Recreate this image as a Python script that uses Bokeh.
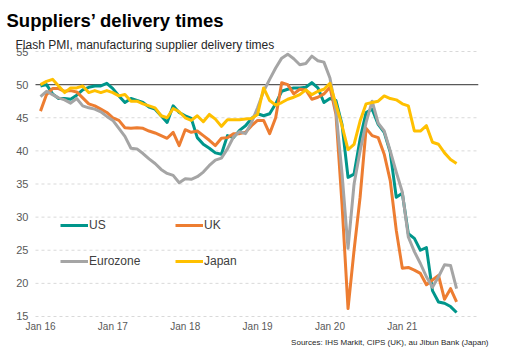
from bokeh.plotting import figure
from bokeh.models import Legend, LegendItem
from bokeh.core.properties import value
from bokeh.embed import file_html
from bokeh.resources import INLINE

# ---- data (month index 0 = Jan 2016 ... 69 = Oct 2021) ----
us = [49.8, 50.0, 48.6, 47.9, 47.9, 47.8, 48.4, 49.2, 49.6, 49.8, 49.8, 50.2,
      49.4, 48.3, 47.3, 47.9, 47.6, 47.3, 46.6, 46.3, 45.3, 44.3, 46.8, 45.8,
      45.3, 44.9, 42.0, 41.0, 40.4, 39.7, 39.5, 42.3, 42.0, 43.1, 43.8, 44.9,
      45.6, 45.3, 45.6, 47.1, 49.0, 49.3, 49.5, 49.5, 49.6, 50.3, 49.5, 47.3,
      47.9, 47.6, 44.0, 36.0, 36.5, 41.8, 45.8, 46.3, 44.0, 42.8, 39.8, 33.0,
      33.6, 27.5, 26.8, 25.0, 25.4, 18.9, 17.2, 17.0, 16.5, 15.6]
uk = [46.0, 48.5, 49.4, 49.4, 49.0, 49.1, 48.9, 48.0, 47.1, 46.8, 46.3, 45.8,
      45.0, 44.6, 43.5, 43.4, 43.5, 43.4, 43.0, 42.7, 42.3, 41.9, 42.8, 40.8,
      43.2, 42.8, 43.0, 42.3, 41.6, 40.8, 41.9, 42.0, 42.6, 42.6, 42.8, 43.8,
      44.6, 44.6, 42.6, 45.0, 50.3, 50.0, 48.6, 49.3, 49.2, 47.8, 48.1, 48.6,
      49.6, 45.5, 32.0, 16.2, 25.0, 33.0, 43.4, 42.3, 42.0, 39.5, 35.5, 28.0,
      22.3, 22.4, 22.0, 21.5, 19.8, 20.5, 21.2, 17.6, 19.2, 17.2]
ez = [48.2, 49.0, 48.5, 48.0, 47.7, 47.2, 47.9, 46.8, 46.5, 46.3, 45.9, 45.2,
      44.6, 43.4, 42.2, 40.4, 40.3, 39.6, 38.8, 38.1, 37.2, 36.6, 36.3, 35.2,
      35.8, 35.7, 36.1, 36.8, 37.8, 38.6, 38.9, 40.3, 42.1, 42.9, 42.6, 44.3,
      46.5, 49.0, 50.8, 52.5, 54.0, 54.6, 53.9, 53.0, 53.2, 54.3, 53.6, 53.4,
      51.0, 46.0, 36.6, 25.3, 35.0, 40.0, 44.3, 47.5, 44.2, 43.0, 40.0, 36.8,
      33.8, 27.0, 24.8, 23.0, 21.0, 19.4, 21.0, 22.8, 22.7, 19.2]
jp = [50.0, 50.5, 50.8, 49.8, 48.8, 49.5, 49.5, 49.8, 48.8, 49.1, 48.8, 49.1,
      48.8, 48.3, 48.5, 47.5, 47.5, 47.1, 46.8, 46.5, 45.3, 45.0, 46.4, 45.9,
      45.0, 44.6, 45.3, 44.4, 45.5, 44.8, 43.7, 44.7, 44.7, 44.7, 44.8, 44.9,
      45.5, 49.5, 47.6, 46.9, 47.3, 47.8, 48.1, 48.5, 49.2, 48.5, 49.0, 49.3,
      50.2, 47.0, 43.8, 40.2, 41.0, 44.5, 47.1, 47.3, 47.5, 48.3, 47.9, 47.7,
      47.1, 46.8, 43.0, 43.0, 43.8, 41.3, 41.0, 39.7, 38.7, 38.1]
months = list(range(len(us)))

series_names = ["US", "UK", "Eurozone", "Japan"]
series_colors = ["#00968b", "#ed7d31", "#a5a5a5", "#ffc000"]

x_ticks = [0, 12, 24, 36, 48, 60]
x_tick_labels = ["Jan 16", "Jan 17", "Jan 18", "Jan 19", "Jan 20", "Jan 21"]
y_ticks = [15, 20, 25, 30, 35, 40, 45, 50, 55]
y_tick_labels = ["15", "20", "25", "30", "35", "40", "45", "50", "55"]
no_change_level = 50

title_text = "Suppliers\u2019 delivery times"
subtitle_text = "Flash PMI, manufacturing supplier delivery times"
source_text = "Sources: IHS Markit, CIPS (UK), au Jibun Bank (Japan)"

FONT = "Liberation Sans"

# layout constants (plot extent in data units)
GRID_X0, GRID_X1 = -0.83, 72.6
PLOT_X0, PLOT_X1 = -6.633, 75.29
Y_BOTTOM, Y_TOP = 10.32, 62.70
SOURCE_X = 74.3

p = figure(width=494, height=347, output_backend="svg", toolbar_location=None,
           x_range=(PLOT_X0, PLOT_X1), y_range=(Y_BOTTOM, Y_TOP),
           x_axis_location=None, y_axis_location=None,
           min_border_left=0, min_border_right=0, min_border_top=0,
           min_border_bottom=0)
p.outline_line_color = None
p.background_fill_color = "white"
p.border_fill_color = "white"
p.xgrid.visible = False
p.ygrid.visible = False

# horizontal gridlines at the y ticks, dashed; solid line at 50
grid_levels = [t for t in y_ticks if t != no_change_level]
p.segment(x0=[GRID_X0] * len(grid_levels), x1=[GRID_X1] * len(grid_levels),
          y0=grid_levels, y1=grid_levels, line_color="#d9d9d9",
          line_dash="3 3", line_width=1)
p.segment(x0=[GRID_X0], x1=[GRID_X1], y0=[no_change_level], y1=[no_change_level],
          line_color="#595959", line_width=1.3)

# y tick labels
p.text(x=[GRID_X0] * len(y_ticks), y=y_ticks, text=y_tick_labels,
       x_offset=-7, text_align="right", text_baseline="middle",
       text_font=value(FONT), text_font_size="11px", text_color="#595959")

renderers = []
for name, vals, col in zip(series_names, [us, uk, ez, jp], series_colors):
    r = p.line(months, vals, line_color=col, line_width=3, line_join="round")
    renderers.append(r)

# x tick labels below the 15 line
p.text(x=x_ticks, y=[y_ticks[0]] * len(x_ticks), text=x_tick_labels,
       y_offset=10, text_align="center", text_baseline="middle",
       text_font=value(FONT), text_font_size="10px", text_color="#595959")

# source note
p.text(x=[SOURCE_X], y=[y_ticks[0]], text=[source_text], y_offset=26,
       text_align="right", text_baseline="middle",
       text_font=value(FONT), text_font_size="8px", text_color="#262626")

# title and subtitle
p.text(x=[PLOT_X0], y=[Y_TOP], text=[title_text], x_offset=6, y_offset=19.5,
       text_align="left", text_baseline="alphabetic",
       text_font=value(FONT), text_font_size="18.5px", text_font_style="bold",
       text_color="#000000")
p.text(x=[PLOT_X0], y=[Y_TOP], text=[subtitle_text], x_offset=15, y_offset=44,
       text_align="left", text_baseline="alphabetic",
       text_font=value(FONT), text_font_size="12px", text_color="#262626")

def make_legend(items, x, y):
    return Legend(items=items, location=(x, y), orientation="vertical",
                  background_fill_alpha=0, border_line_color=None,
                  padding=0, margin=0, spacing=16, glyph_width=28, glyph_height=20,
                  label_height=20, label_standoff=1,
                  label_text_font=FONT, label_text_font_size="12px",
                  label_text_color="#404040")

lg1 = make_legend([LegendItem(label=series_names[0], renderers=[renderers[0]]),
                   LegendItem(label=series_names[2], renderers=[renderers[2]])], 60, 76)
lg2 = make_legend([LegendItem(label=series_names[1], renderers=[renderers[1]]),
                   LegendItem(label=series_names[3], renderers=[renderers[3]])], 175, 76)
p.add_layout(lg1, "center")
p.add_layout(lg2, "center")

open("out.html", "w").write(file_html(p, INLINE))
